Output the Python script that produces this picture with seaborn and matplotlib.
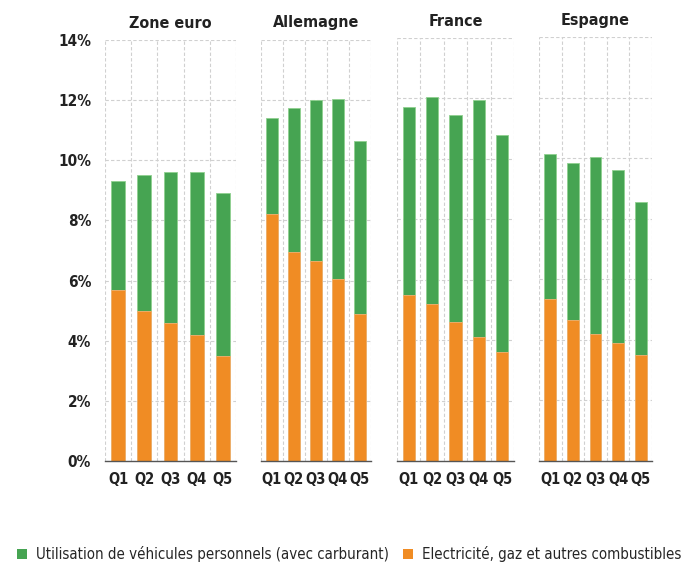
import matplotlib
matplotlib.use("Agg")
import matplotlib.pyplot as plt
import seaborn as sns
import pandas as pd
import numpy as np
from matplotlib.patches import Patch

sns.set_style("white")
plt.rcParams['font.family'] = ['DejaVu Sans']
plt.rcParams['font.stretch'] = 'condensed'

quintiles = ["Q1", "Q2", "Q3", "Q4", "Q5"]
regions = ["Zone euro", "Allemagne", "France", "Espagne"]
# Electricité, gaz et autres combustibles (%)
energie = {
    "Zone euro": [5.7, 5.0, 4.6, 4.2, 3.5],
    "Allemagne": [8.2, 6.95, 6.65, 6.05, 4.9],
    "France": [5.5, 5.2, 4.6, 4.1, 3.6],
    "Espagne": [5.35, 4.65, 4.2, 3.9, 3.5],
}
# Utilisation de véhicules personnels (avec carburant) (%)
vehicules = {
    "Zone euro": [3.6, 4.5, 5.0, 5.4, 5.4],
    "Allemagne": [3.2, 4.8, 5.35, 6.0, 5.75],
    "France": [6.2, 6.85, 6.85, 7.85, 7.2],
    "Espagne": [4.8, 5.2, 5.85, 5.7, 5.05],
}
yticks = [0, 2, 4, 6, 8, 10, 12, 14]
labels = ["Utilisation de véhicules personnels (avec carburant)",
          "Electricité, gaz et autres combustibles"]

GREEN = "#46A452"
ORANGE = "#F08C24"

fig = plt.figure(figsize=(6.93, 5.67), dpi=100)
positions = [
    (105, 40, 131),
    (261, 40, 110),
    (397, 38, 117),
    (539, 37, 113),
]
W, H = 693, 567
bottom_px = 461

for i, reg in enumerate(regions):
    left, top, width = positions[i]
    ax = fig.add_axes([left / W, 1 - bottom_px / H, width / W, (bottom_px - top) / H])
    df = pd.DataFrame({
        "q": quintiles,
        "energie": energie[reg],
        "total": np.array(energie[reg]) + np.array(vehicules[reg]),
    })
    sns.barplot(data=df, x="q", y="total", color=GREEN, saturation=1, width=0.52,
                ax=ax, edgecolor="#8fd08f", linewidth=0.6, zorder=3)
    sns.barplot(data=df, x="q", y="energie", color=ORANGE, saturation=1, width=0.52,
                ax=ax, edgecolor="#f5b070", linewidth=0.6, zorder=4)
    ax.set_xlim(-0.5, 4.5)
    ax.set_ylim(0, 14)
    ax.set_xlabel("")
    ax.set_ylabel("")
    for s in ["top", "left", "right"]:
        ax.spines[s].set_visible(False)
    ax.spines["bottom"].set_color("#555555")
    ax.spines["bottom"].set_linewidth(1.0)
    ax.spines["bottom"].set_zorder(5)
    # grid
    for y in yticks:
        ax.axhline(y, color="#d0d0d0", lw=0.8, ls=(0, (3, 2)), zorder=1)
    for xb in np.arange(-0.5, 5.0, 1.0):
        ax.axvline(xb, color="#d0d0d0", lw=0.8, ls=(0, (3, 2)), zorder=1)
    ax.set_xticks(np.arange(-0.5, 5.0, 1.0))
    ax.set_xticklabels([])
    ax.tick_params(axis="x", which="major", length=5, width=1, color="#555555", direction="out")
    ax.set_xticks(range(5), minor=True)
    ax.set_xticklabels(quintiles, minor=True, fontsize=10.5, fontweight="semibold", color="#222222")
    ax.tick_params(axis="x", which="minor", length=0, pad=8)
    ax.set_yticks(yticks)
    if i == 0:
        ax.set_yticklabels([f"{v}%" for v in yticks], fontsize=11, fontweight="bold", color="#222222")
        ax.tick_params(axis="y", length=0, pad=10)
    else:
        ax.set_yticklabels([])
        ax.tick_params(axis="y", length=0)
    ax.set_title(reg, fontsize=11.5, fontweight="bold", color="#222222", pad=9)

handles = [Patch(facecolor=GREEN, edgecolor="none"), Patch(facecolor=ORANGE, edgecolor="none")]
fig.legend(handles, labels, loc="lower left", bbox_to_anchor=(0.005, -0.015), ncol=2,
           frameon=False, fontsize=10.8, handlelength=0.7, handleheight=0.7,
           handletextpad=0.6, columnspacing=0.9)

fig.savefig("out.png", dpi=100)
